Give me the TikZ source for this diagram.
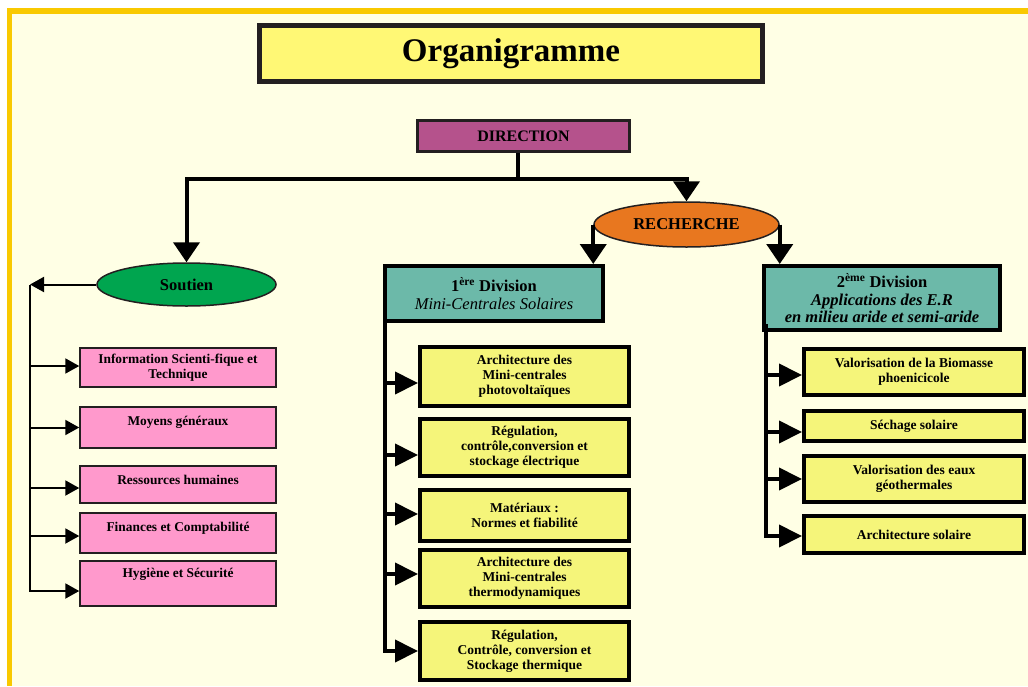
\documentclass[tikz,border=0pt]{standalone}
\usepackage{fontspec}
\setmainfont{Liberation Serif}
\usetikzlibrary{arrows.meta,shapes.geometric}
\definecolor{bgy}{HTML}{FFFFE5}
\definecolor{bord}{HTML}{F9C900}
\definecolor{titley}{HTML}{FFF875}
\definecolor{dirc}{HTML}{B5528C}
\definecolor{rechc}{HTML}{E8771F}
\definecolor{soutc}{HTML}{00A54F}
\definecolor{divc}{HTML}{6CB9A9}
\definecolor{yb}{HTML}{F5F57A}
\definecolor{pinkc}{HTML}{FF99CC}
\definecolor{edge}{HTML}{231F20}
\begin{document}
\begin{tikzpicture}[x=1pt,y=-1pt,
  basebox/.style={rectangle, draw=edge, inner sep=2pt, align=center, text=black},
  titlebox/.style={basebox, line width=5pt, fill=titley, minimum width=503pt, minimum height=56pt, font=\fontsize{33}{38}\selectfont\bfseries},
  dirbox/.style={basebox, line width=2.5pt, fill=dirc, minimum width=212pt, minimum height=31pt, font=\fontsize{16}{18}\selectfont\bfseries},
  ovalbox/.style={ellipse, draw=edge, line width=1.5pt, inner sep=1pt, font=\fontsize{16.5}{18}\selectfont\bfseries},
  divbox/.style={basebox, draw=black, line width=4pt, fill=divc, font=\fontsize{16.5}{17.5}\selectfont},
  ybox/.style={basebox, draw=black, line width=4pt, fill=yb, font=\fontsize{13.5}{15}\selectfont\bfseries},
  pbox/.style={basebox, line width=1.5pt, fill=pinkc, minimum width=196pt, font=\fontsize{13.4}{15}\selectfont\bfseries},
  raised/.style={text height=8pt, text depth=#1},
  bigarrow/.style={line width=4pt, draw=black, -{Triangle[length=20pt,width=26pt]}},
  midarrow/.style={line width=4pt, draw=black, -{Triangle[length=23pt,width=22pt]}},
  smallarrow/.style={line width=2pt, draw=black, -{Triangle[length=14pt,width=15pt]}},
  plainline/.style={line width=4pt, draw=black}
]
\useasboundingbox (0,0) rectangle (1028,686);
\fill[white] (0,0) rectangle (1028,686);
\fill[bgy] (7,8) rectangle (1028,686);
\fill[bord] (7,8) rectangle (1028,14);
\fill[bord] (7,8) rectangle (12,686);

% title
\node[titlebox] (title) at (511,53.5) {Organigramme};

% top level
\node[dirbox] (dir) at (523.5,136) {DIRECTION};
\node[ovalbox, fill=soutc, minimum width=179pt, minimum height=43pt] (sout) at (186.5,284.5) {Soutien};
\node[ovalbox, fill=rechc, minimum width=185pt, minimum height=45pt] (rech) at (686.5,224.5) {RECHERCHE};

% divisions
\node[divbox, minimum width=218pt, minimum height=55pt] (div1) at (494,293.5)
  {\bfseries 1\textsuperscript{ère} Division\\ \itshape Mini-Centrales Solaires};
\node[divbox, minimum width=236pt, minimum height=64pt] (div2) at (882,298)
  {\bfseries 2\textsuperscript{ème} Division\\ \bfseries\itshape Applications des E.R\\ \bfseries\itshape en milieu aride et semi-aride};

% division 1 boxes
\node[ybox, minimum width=209pt, minimum height=59pt] (y1) at (524.5,376.5) {Architecture des\\Mini-centrales\\photovoltaïques};
\node[ybox, minimum width=209pt, minimum height=57pt] (y2) at (524.5,447.5) {Régulation,\\contrôle,conversion et\\stockage électrique};
\node[ybox, minimum width=209pt, minimum height=51pt] (y3) at (524.5,515.5) {Matériaux :\\Normes et fiabilité};
\node[ybox, minimum width=209pt, minimum height=57pt] (y4) at (524.5,578.5) {Architecture des\\Mini-centrales\\thermodynamiques};
\node[ybox, minimum width=209pt, minimum height=58pt] (y5) at (524.5,651) {Régulation,\\Contrôle, conversion et\\Stockage thermique};

% division 2 boxes
\node[ybox, minimum width=220pt, minimum height=46pt] (b1) at (914,372) {Valorisation de la Biomasse\\phoenicicole};
\node[ybox, minimum width=220pt, minimum height=30pt] (b2) at (914,426) {Séchage solaire};
\node[ybox, minimum width=220pt, minimum height=46pt] (b3) at (914,479) {Valorisation des eaux\\géothermales};
\node[ybox, minimum width=220pt, minimum height=37pt] (b4) at (914,534.5) {Architecture solaire};

% soutien boxes
\node[pbox, minimum height=39pt] (p1) at (178,367.5) {Information Scienti-fique et\\Technique};
\node[pbox, minimum height=41pt, raised=13pt] (p2) at (178,427.5) {Moyens généraux};
\node[pbox, minimum height=37pt, raised=9pt] (p3) at (178,484.5) {Ressources humaines};
\node[pbox, minimum height=40pt, raised=12pt] (p4) at (178,533) {Finances et Comptabilité};
\node[pbox, minimum height=45pt, raised=21pt] (p5) at (178,583.5) {Hygiène et Sécurité};

% direction connectors
\coordinate (j) at (518,179);
\draw[plainline] (j |- dir.south) -- (j);
\draw[bigarrow] (j) -| (sout.north);
\draw[bigarrow] (j) -| (rech.north);

% recherche to divisions
\draw[bigarrow] (rech.west) -- (rech.west |- div1.north);
\draw[bigarrow] (rech.east) -- (rech.east |- div2.north);

% division 1 spine
\coordinate (s1) at ([xshift=2pt,yshift=6pt]div1.south west);
\coordinate (a1) at ([yshift=-6.5pt]y1.west);
\coordinate (a2) at ([yshift=-7.5pt]y2.west);
\coordinate (a3) at ([yshift=1.5pt]y3.west);
\coordinate (a4) at ([yshift=4.5pt]y4.west);
\coordinate (a5) at (y5.west);
\draw[midarrow] (s1) |- (a5);
\draw[midarrow] (s1 |- a1) -- (a1);
\draw[midarrow] (s1 |- a2) -- (a2);
\draw[midarrow] (s1 |- a3) -- (a3);
\draw[midarrow] (s1 |- a4) -- (a4);

% division 2 spine
\coordinate (s2) at ([xshift=4pt,yshift=8pt]div2.south west);
\coordinate (c1) at ([yshift=-3pt]b1.west);
\coordinate (c2) at ([yshift=-6pt]b2.west);
\coordinate (c3) at (b3.west);
\coordinate (c4) at ([yshift=-1.5pt]b4.west);
\draw[midarrow] (s2) |- (c4);
\draw[midarrow] (s2 |- c1) -- (c1);
\draw[midarrow] (s2 |- c2) -- (c2);
\draw[midarrow] (s2 |- c3) -- (c3);

% soutien spine
\coordinate (sl) at (30,284.5);
\draw[smallarrow] (sout.west) -- (sl);
\coordinate (q1) at ([yshift=1.5pt]p1.west);
\coordinate (q2) at (p2.west);
\coordinate (q3) at ([yshift=-3.5pt]p3.west);
\coordinate (q4) at ([yshift=-3pt]p4.west);
\coordinate (q5) at ([yshift=-7.5pt]p5.west);
\draw[smallarrow] (sl) |- (q5);
\draw[smallarrow] (sl |- q1) -- (q1);
\draw[smallarrow] (sl |- q2) -- (q2);
\draw[smallarrow] (sl |- q3) -- (q3);
\draw[smallarrow] (sl |- q4) -- (q4);
\end{tikzpicture}
\end{document}
